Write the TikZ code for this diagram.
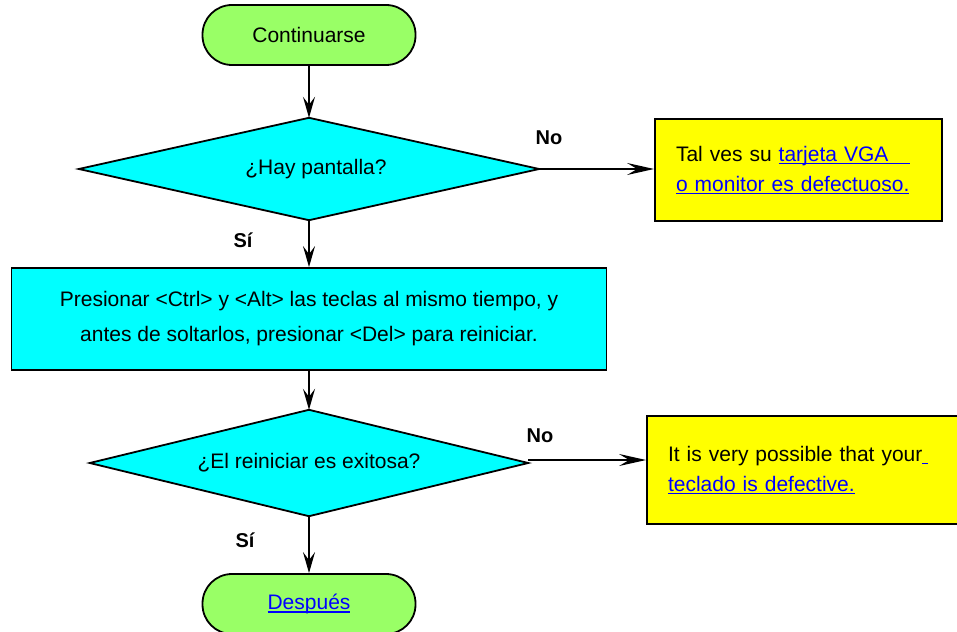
\documentclass[tikz,border=0pt]{standalone}
\usepackage{fontspec}
\setmainfont{Liberation Sans}
\usetikzlibrary{arrows.meta,backgrounds}
\definecolor{termgreen}{RGB}{153,255,102}
\definecolor{boxcyan}{RGB}{0,255,255}
\definecolor{noteyellow}{RGB}{255,255,0}
\definecolor{linkblue}{RGB}{0,0,255}
\newsavebox\lkbox
\newcommand\lk[2][0pt]{\leavevmode{\color{linkblue}\sbox\lkbox{#2}\rlap{\rule[-3.2pt]{\dimexpr\wd\lkbox+#1\relax}{1.5pt}}\usebox\lkbox}}
\begin{document}
\begin{tikzpicture}[x=1pt,y=-1pt,
  font=\fontsize{21}{30}\selectfont,
  term/.style={draw, line width=1.8pt, fill=termgreen, rounded corners=29.5pt,
    minimum width=213pt, minimum height=60pt, inner sep=0pt},
  decision/.style={rectangle, inner sep=0pt},
  diamondpath/.style={draw, line width=1.8pt, fill=boxcyan, line join=miter},
  proc/.style={rectangle, draw, line width=1.8pt, fill=boxcyan, align=center,
    minimum width=595pt, minimum height=102pt, inner sep=0pt,
    font=\fontsize{21}{35}\selectfont},
  note/.style={rectangle, draw, line width=1.8pt, fill=noteyellow, align=left,
    inner xsep=21pt, inner ysep=0pt},
  arr/.style={-{Stealth[length=21pt,width=12pt,inset=8pt]}, line width=1.6pt},
  harr/.style={-{Stealth[length=27pt,width=12pt,inset=10pt]}, line width=1.6pt},
  lbl/.style={font=\fontsize{20}{24}\selectfont\bfseries}]
\useasboundingbox (0,0) rectangle (957,631);
\clip (0,0) rectangle (957,631);

\node[term] (start) at (309,35) {Continuarse};
\node[decision, minimum width=460pt, minimum height=102pt] (d1) at (309,169)
  {\hspace*{14pt}¿Hay pantalla?};
\node[note, text width=245pt, minimum height=102pt] (n1) at (798.5,170)
  {\rule{0pt}{8pt}Tal ves su \lk[22pt]{tarjeta VGA}\\\lk{o monitor es defectuoso.}};
\node[proc] (p1) at (309,319)
  {Presionar <Ctrl> y <Alt> las teclas al mismo tiempo, y\\
   antes de soltarlos, presionar <Del> para reiniciar.};
\node[decision, minimum width=438pt, minimum height=106pt] (d2) at (309,463)
  {¿El reiniciar es exitosa?};
\node[note, text width=288pt, minimum width=330pt, minimum height=108pt] (n2) at (812,470)
  {It is very possible that your\lk[6pt]{}\\\lk{teclado is defective.}};
\node[term] (end) at (309,604) {\lk{Después}};

\begin{pgfonlayer}{background}
  \fill[white] (0,0) rectangle (957,631);
  \draw[diamondpath] (d1.north) -- (d1.east) -- (d1.south) -- (d1.west) -- cycle;
  \draw[diamondpath] (d2.north) -- (d2.east) -- (d2.south) -- (d2.west) -- cycle;
\end{pgfonlayer}

\node[lbl] (no1) at (549,138) {No};
\node[lbl] (si1) at (243,240) {Sí};
\node[lbl] (no2) at (540,436) {No};
\node[lbl] (si2) at (245,540) {Sí};

\draw[arr] (start.south) -- (d1.north);
\draw[harr] (d1.east) -- (d1.east -| n1.west);
\draw[arr] (d1.south) -- (p1.north);
\draw[arr] (p1.south) -- (d2.north);
\draw[harr] ([yshift=3pt]d2.east) -- ([yshift=3pt]d2.east -| n2.west);
\draw[arr] (d2.south) -- (end.north);
\end{tikzpicture}
\end{document}
